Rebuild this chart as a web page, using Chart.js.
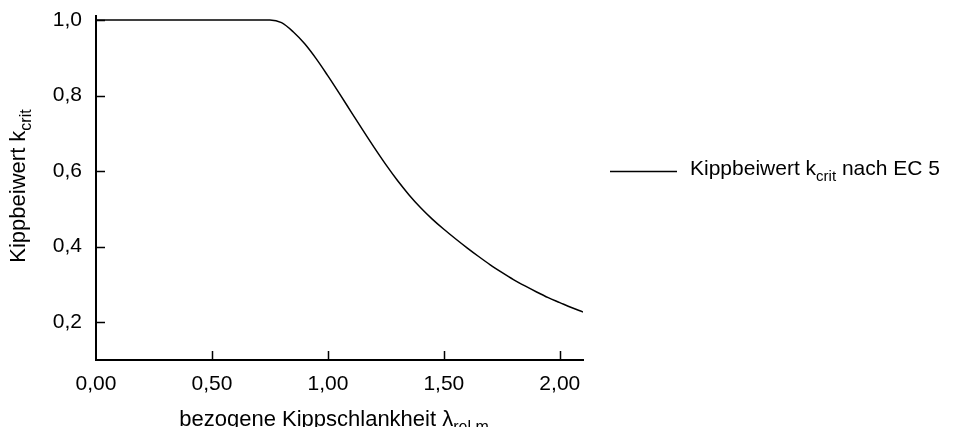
<!DOCTYPE html>
<html>
<head>
<meta charset="utf-8">
<script src="https://cdn.jsdelivr.net/npm/chart.js@4"></script>
<style>
    html, body { margin: 0; padding: 0; background: #fff; }
    #wrap { width: 954px; height: 427px; }
</style>
</head>
<body>
<div id="wrap"><canvas id="grafica"></canvas></div>
<script>
// Werte
const lambdaValues = [0, 0.1, 0.2, 0.3, 0.4, 0.5, 0.6, 0.7, 0.75, 0.8, 0.85, 0.9, 0.95, 1.0, 1.05, 1.1, 1.15, 1.2, 1.25, 1.3, 1.35, 1.4, 1.45, 1.5, 1.55, 1.6, 1.65, 1.7, 1.75, 1.8, 1.85, 1.9, 1.95, 2.0, 2.05, 2.1];
const kcritValues = [1, 1, 1, 1, 1, 1, 1, 1, 1, 0.993, 0.969, 0.937, 0.897, 0.852, 0.805, 0.757, 0.709, 0.662, 0.617, 0.575, 0.537, 0.503, 0.473, 0.446, 0.421, 0.397, 0.374, 0.352, 0.332, 0.313, 0.296, 0.280, 0.265, 0.252, 0.239, 0.227];
const xTicks = [0, 0.5, 1.0, 1.5, 2.0];
const yTicks = [0.2, 0.4, 0.6, 0.8, 1.0];

const FONT = '"Liberation Sans", Arial, sans-serif';
Chart.defaults.font.family = FONT;
Chart.defaults.font.size = 21;
Chart.defaults.color = '#000';

// Text mit tiefgestelltem Teil zeichnen
function textMitIndex(ctx, teile, x, y, zentriert, groesse) {
    const gross = groesse + 'px ' + FONT, klein = Math.round(groesse * 0.72) + 'px ' + FONT;
    let breite = 0;
    teile.forEach(t => {
        ctx.font = t.sub ? klein : gross;
        breite += ctx.measureText(t.text).width;
    });
    let cx = zentriert ? x - breite / 2 : x;
    teile.forEach(t => {
        ctx.font = t.sub ? klein : gross;
        ctx.fillText(t.text, cx, t.sub ? y + 6 : y);
        cx += ctx.measureText(t.text).width;
    });
}

const beschriftung = {
    id: 'beschriftung',
    afterDraw(chart) {
        const ctx = chart.ctx;
        const area = chart.chartArea;
        const sx = chart.scales.x, sy = chart.scales.y;
        ctx.save();
        ctx.strokeStyle = '#000';
        ctx.fillStyle = '#000';
        ctx.lineWidth = 1.5;

        // Teilstriche nach innen
        ctx.beginPath();
        xTicks.forEach(v => {
            if (v === 0) return;
            const px = Math.round(sx.getPixelForValue(v)) + 0.5;
            ctx.moveTo(px, area.bottom);
            ctx.lineTo(px, area.bottom - 9);
        });
        yTicks.forEach(v => {
            const py = Math.round(sy.getPixelForValue(v)) + 0.5;
            ctx.moveTo(area.left, py);
            ctx.lineTo(area.left + 9, py);
        });
        ctx.stroke();

        ctx.textBaseline = 'alphabetic';
        ctx.textAlign = 'left';

        // x-Achsentitel
        textMitIndex(ctx, [
            { text: 'bezogene Kippschlankheit \u03BB' },
            { text: 'rel.m', sub: true }
        ], 334, 426, true, 22);

        // y-Achsentitel
        ctx.save();
        ctx.translate(25, 186);
        ctx.rotate(-Math.PI / 2);
        textMitIndex(ctx, [
            { text: 'Kippbeiwert k' },
            { text: 'crit', sub: true }
        ], 0, 0, true, 22);
        ctx.restore();

        // Legende
        ctx.beginPath();
        ctx.moveTo(610, 171.5);
        ctx.lineTo(677, 171.5);
        ctx.stroke();
        textMitIndex(ctx, [
            { text: 'Kippbeiwert k' },
            { text: 'crit', sub: true },
            { text: ' nach EC 5' }
        ], 690, 175, false, 21);

        ctx.restore();
    }
};

new Chart(document.getElementById('grafica'), {
    type: 'line',
    data: {
        datasets: [{
            label: 'Kippbeiwert kcrit nach EC 5',
            data: lambdaValues.map((l, i) => ({ x: l, y: kcritValues[i] })),
            borderColor: '#000',
            borderWidth: 1.5,
            pointRadius: 0,
            fill: false,
            cubicInterpolationMode: 'monotone'
        }]
    },
    options: {
        responsive: true,
        maintainAspectRatio: false,
        animation: false,
        layout: { padding: { left: 0, top: 16, right: 371, bottom: 0 } },
        plugins: {
            legend: { display: false },
            tooltip: { enabled: false }
        },
        scales: {
            x: {
                type: 'linear',
                min: 0,
                max: 2.1,
                afterBuildTicks: scale => { scale.ticks = xTicks.map(v => ({ value: v })); },
                afterFit: scale => {
                    scale.height = 67;
                    scale.paddingLeft = 0;
                    scale.paddingRight = 0;
                },
                grid: { display: false, drawTicks: false },
                border: { display: true, color: '#000', width: 2 },
                ticks: {
                    padding: 12,
                    maxRotation: 0,
                    autoSkip: false,
                    callback: value => value.toFixed(2).replace('.', ',')
                }
            },
            y: {
                type: 'linear',
                min: 0.1,
                max: 1.0106,
                afterBuildTicks: scale => { scale.ticks = yTicks.map(v => ({ value: v })); },
                afterFit: scale => {
                    scale.width = 96;
                    scale.paddingTop = 0;
                    scale.paddingBottom = 0;
                },
                grid: { display: false, drawTicks: false },
                border: { display: true, color: '#000', width: 2 },
                ticks: {
                    padding: 14,
                    autoSkip: false,
                    callback: value => value.toFixed(1).replace('.', ',')
                }
            }
        }
    },
    plugins: [beschriftung]
});
</script>
</body>
</html>
